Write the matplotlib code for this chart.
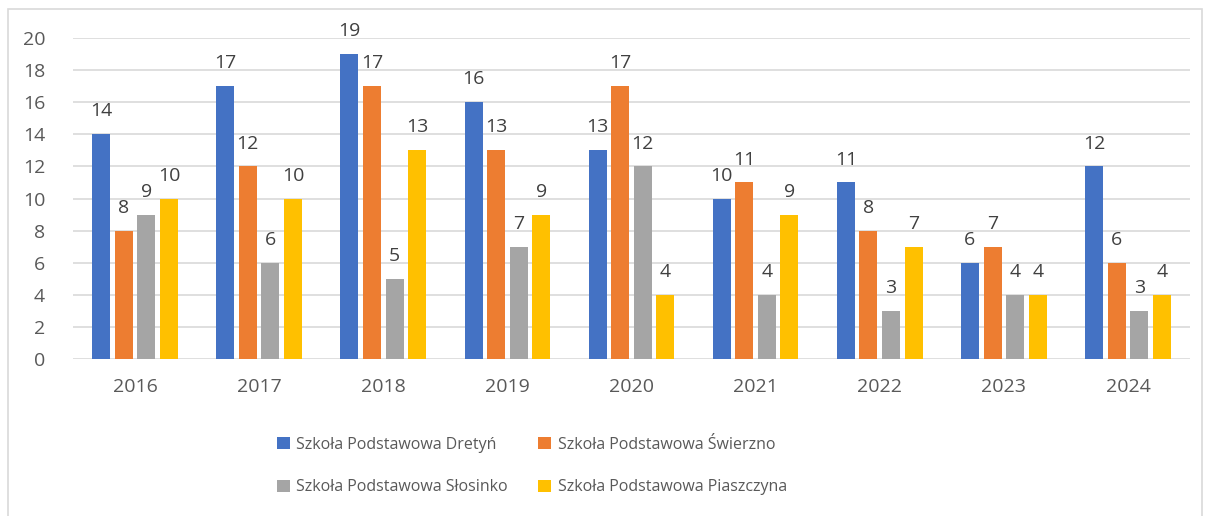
import matplotlib.pyplot as plt
import numpy as np
from matplotlib.patches import Rectangle

years = ['2016', '2017', '2018', '2019', '2020', '2021', '2022', '2023', '2024']
dretyn = [14, 17, 19, 16, 13, 10, 11, 6, 12]
swierzno = [8, 12, 17, 13, 17, 11, 8, 7, 6]
slosinko = [9, 6, 5, 7, 12, 4, 3, 4, 3]
piaszczyna = [10, 10, 13, 9, 4, 9, 7, 4, 4]

names = ['Szkoła Podstawowa Dretyń', 'Szkoła Podstawowa Świerzno',
         'Szkoła Podstawowa Słosinko', 'Szkoła Podstawowa Piaszczyna']
colors = ['#4472C4', '#ED7D31', '#A5A5A5', '#FFC000']
series = [dretyn, swierzno, slosinko, piaszczyna]

plt.rcParams['font.family'] = ['Open Sans', 'DejaVu Sans']
txt = '#595959'

fig = plt.figure(figsize=(12.05, 5.16), dpi=100)
fig.patches.append(Rectangle((8 / 1205, -0.01), 1194 / 1205, 1 - 9 / 516 + 0.01,
                             transform=fig.transFigure, fill=False,
                             edgecolor='#D9D9D9', linewidth=1.2))
ax = fig.add_axes([73 / 1205, 1 - 359 / 516, 1117 / 1205, 321 / 516])

x = np.arange(len(years))
w = 0.145
step = 0.182
handles = []
for i, (vals, c, n) in enumerate(zip(series, colors, names)):
    pos = x + (i - 1.5) * step
    bars = ax.bar(pos, vals, w, color=c, label=n, zorder=3)
    handles.append(bars)
    for b, v in zip(bars, vals):
        ax.annotate(str(v), (b.get_x() + b.get_width() / 2, v),
                    xytext=(0, 10), textcoords='offset points',
                    ha='center', va='bottom', fontsize=14, color='#404040')

ax.set_xlim(-0.5, len(years) - 0.5)
ax.set_ylim(0, 20)
ax.set_yticks(range(0, 21, 2))
ax.set_xticks(x)
ax.set_xticklabels(years)
ax.tick_params(axis='both', length=0, labelsize=14, colors=txt)
ax.tick_params(axis='x', pad=14)
ax.tick_params(axis='y', pad=20)
ax.grid(axis='y', color='#D9D9D9', linewidth=1.2, zorder=0)
for s in ax.spines.values():
    s.set_visible(False)

# legend reads row by row: reorder for matplotlib's column filling
order = [0, 2, 1, 3]
leg = fig.legend([handles[k] for k in order], [names[k] for k in order],
                 loc='center', bbox_to_anchor=(532 / 1205, 1 - 466 / 516),
                 ncol=2, frameon=False, fontsize=11.5, handlelength=0.8,
                 handleheight=0.8, handletextpad=0.4, columnspacing=1.9,
                 labelspacing=1.65)
for t in leg.get_texts():
    t.set_color(txt)

fig.savefig('out.png', dpi=100)
